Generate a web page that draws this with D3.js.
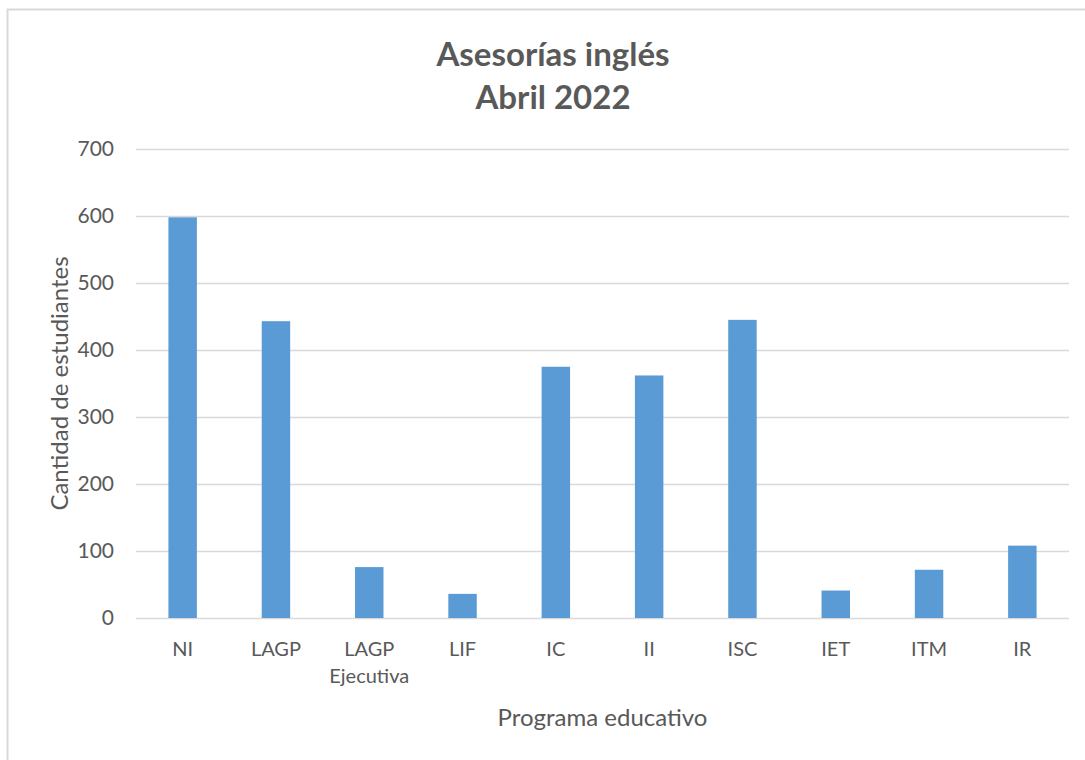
<!DOCTYPE html>
<html>
<head>
<meta charset="utf-8">
<script src="https://cdn.jsdelivr.net/npm/d3@7"></script>
<style>
  body { margin: 0; background: #fff; }
  svg { display: block; font-family: Lato, "Open Sans", sans-serif; }
</style>
</head>
<body>
<svg id="svg" width="1085" height="760"></svg>
<script>
(function() {

    // data
    const categories = ["NI", "LAGP", "LAGP Ejecutiva", "LIF", "IC", "II", "ISC", "IET", "ITM", "IR"]
    const students = [598, 443, 76, 36, 375, 362, 445, 41, 72, 108]
    const yTicks = [0, 100, 200, 300, 400, 500, 600, 700]
    const titleLines = ["Asesorías inglés", "Abril 2022"]

    const svg = d3.select('#svg')
    const textColor = '#595959', gridColor = '#d9d9d9', barColor = '#5b9bd5'
    const marginLeft = 136, marginRight = 1069, marginTop = 149, marginBottom = 618

    // outer frame of the chart area
    svg.append('rect')
        .attr('x', 7.5)
        .attr('y', 9.5)
        .attr('width', 1100)
        .attr('height', 800)
        .style('fill', 'none')
        .style('stroke', gridColor)
        .style('stroke-width', 2)

    const x = d3.scaleBand()
        .domain(categories)
        .range([marginLeft, marginRight])
        .paddingInner(0.695)
        .paddingOuter(0.3475)

    const y = d3.scaleLinear()
        .domain([0, 700])
        .range([marginBottom, marginTop])

    // gridlines + y labels
    const yAxis = svg.append('g')
        .attr('transform', `translate(${marginLeft},0)`)
        .call(d3.axisLeft(y).tickValues(yTicks).tickSize(-(marginRight - marginLeft)).tickPadding(22))
    yAxis.select('.domain').remove()
    yAxis.selectAll('line')
        .style('stroke', gridColor)
        .style('stroke-width', 1.5)
    yAxis.selectAll('text')
        .style('fill', textColor)
        .style('font-size', '21px')
        .style('font-family', 'Lato, sans-serif')

    // bars
    svg.selectAll('.bar')
        .data(categories)
        .enter()
        .append('rect')
            .attr('class', 'bar')
            .attr('x', d => x(d))
            .attr('y', (d, i) => y(students[i]))
            .attr('width', x.bandwidth())
            .attr('height', (d, i) => y(0) - y(students[i]))
            .style('fill', barColor)

    // x labels (wrapped on space for "LAGP Ejecutiva")
    const xLabels = svg.append('g')
    categories.forEach(c => {
        const t = xLabels.append('text')
            .attr('x', x(c) + x.bandwidth() / 2)
            .attr('y', 656)
            .attr('text-anchor', 'middle')
            .style('fill', textColor)
            .style('font-size', '20px')
        c.split(' ').forEach((w, i) => {
            t.append('tspan')
                .attr('x', x(c) + x.bandwidth() / 2)
                .attr('dy', i == 0 ? 0 : 27)
                .text(w)
        })
    })

    // axis titles
    svg.append('text')
        .attr('x', (marginLeft + marginRight) / 2)
        .attr('y', 726)
        .attr('text-anchor', 'middle')
        .style('fill', textColor)
        .style('font-size', '24px')
        .text("Programa educativo")

    svg.append('text')
        .attr('transform', `translate(68,${(marginTop + marginBottom) / 2}) rotate(-90)`)
        .attr('text-anchor', 'middle')
        .style('fill', textColor)
        .style('font-size', '24px')
        .text("Cantidad de estudiantes")

    // title
    titleLines.forEach((line, i) => {
        svg.append('text')
            .attr('x', 553)
            .attr('y', 66 + i * 43)
            .attr('text-anchor', 'middle')
            .style('fill', textColor)
            .style('font-size', '33px')
            .style('font-weight', 'bold')
            .text(line)
    })

})();
</script>
</body>
</html>
